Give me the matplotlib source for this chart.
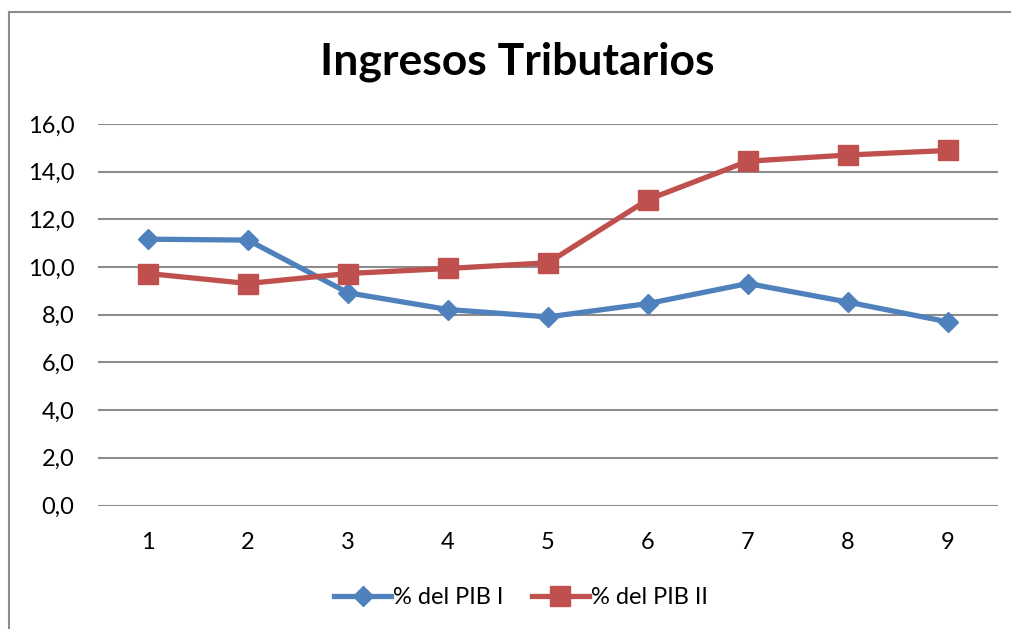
import matplotlib.pyplot as plt
from matplotlib.lines import Line2D
from matplotlib.ticker import FuncFormatter, MultipleLocator

# ── data ────────────────────────────────────────────────────────────────────
periods = [1, 2, 3, 4, 5, 6, 7, 8, 9]
pib_i = [11.17, 11.13, 8.92, 8.22, 7.91, 8.47, 9.31, 8.53, 7.70]
pib_ii = [9.73, 9.31, 9.73, 9.94, 10.18, 12.83, 14.44, 14.70, 14.89]
labels = ["% del PIB I", "% del PIB II"]

BLUE = "#4F81BD"
RED = "#C0504D"
GRID = "#8C8C8C"

plt.rcParams["font.family"] = ["Lato", "DejaVu Sans"]

W, H = 1012, 629
fig = plt.figure(figsize=(W / 100, H / 100), dpi=100)
ax = fig.add_axes([98 / W, 1 - 505.5 / H, 900 / W, 381.5 / H])

ax.plot(periods, pib_i, color=BLUE, lw=3.8, marker="D", ms=10, label=labels[0])
ax.plot(periods, pib_ii, color=RED, lw=3.8, marker="s", ms=14, label=labels[1])

ax.set_xlim(0.5, 9.5)
ax.set_ylim(0, 16)
ax.set_xticks(periods)
ax.yaxis.set_major_locator(MultipleLocator(2))
ax.yaxis.set_major_formatter(FuncFormatter(lambda v, _: f"{v:.1f}".replace(".", ",")))
ax.grid(axis="y", color=GRID, lw=1.5)
ax.set_axisbelow(True)
for s in ax.spines.values():
    s.set_visible(False)
ax.tick_params(axis="both", length=0, labelsize=17, colors="black")
ax.tick_params(axis="y", pad=17)
ax.tick_params(axis="x", pad=19)

fig.text(517 / W, 1 - 62 / H, "Ingresos Tributarios", ha="center", va="center",
         fontsize=32, fontweight="bold")

fig.legend(loc="center", bbox_to_anchor=(521 / W, 1 - 598 / H), ncol=2,
           frameon=False, fontsize=17, handlelength=2.4, handletextpad=0.1,
           columnspacing=1.2)

# chart-area border (only left and top visible in the crop)
fig.add_artist(Line2D([8.5 / W, 8.5 / W], [0, 1 - 12 / H], color=GRID, lw=1.5))
fig.add_artist(Line2D([8.5 / W, 1], [1 - 12 / H, 1 - 12 / H], color=GRID, lw=1.5))

fig.savefig("out.png", dpi=100)
